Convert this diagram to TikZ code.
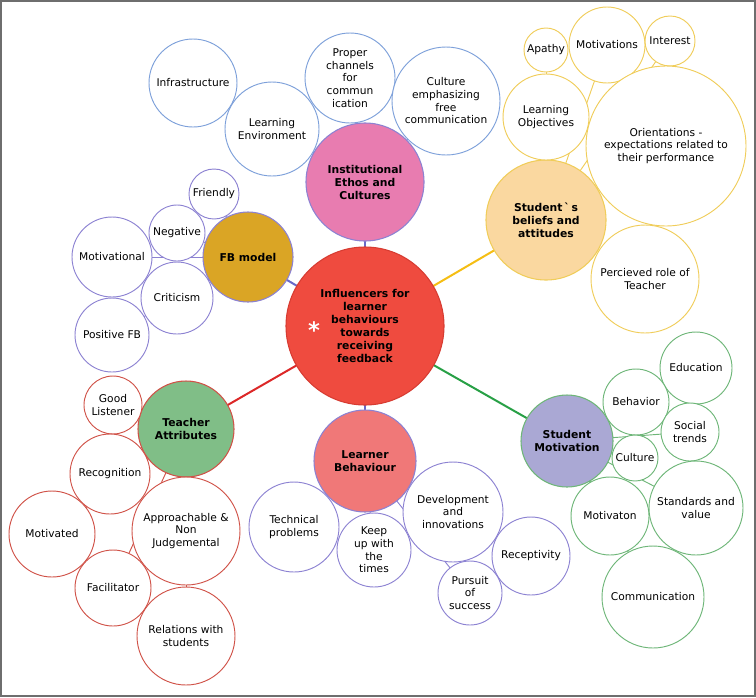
\documentclass[tikz,border=0pt]{standalone}
\usepackage{fontspec}
\setmainfont{DejaVu Sans}
\newfontfamily\rawfont{DejaVu Sans}
\usetikzlibrary{backgrounds}
\definecolor{rootred}{RGB}{239,75,63}
\definecolor{rootline}{RGB}{215,60,50}
\definecolor{instpink}{RGB}{232,124,176}
\definecolor{fbgold}{RGB}{218,165,37}
\definecolor{beliefpeach}{RGB}{250,216,160}
\definecolor{teachgreen}{RGB}{128,190,135}
\definecolor{learnrose}{RGB}{240,120,120}
\definecolor{motivlilac}{RGB}{170,168,212}
\definecolor{edgeblue}{RGB}{125,160,218}
\definecolor{edgeyellow}{RGB}{240,205,90}
\definecolor{edgepurple}{RGB}{140,130,210}
\definecolor{edgered}{RGB}{208,82,72}
\definecolor{edgegreen}{RGB}{110,182,120}
\definecolor{trunkblue}{RGB}{105,105,200}
\definecolor{trunkgold}{RGB}{245,190,20}
\definecolor{trunkred}{RGB}{220,40,40}
\definecolor{trunkgreen}{RGB}{40,160,70}
\definecolor{framegray}{RGB}{110,110,110}

\begin{document}
\begin{tikzpicture}[x=0.75pt, y=-0.75pt,
    rad/.style={minimum size=#1*1.5pt},
    leaf/.style={circle, draw=#1, fill=white, line width=0.7pt, inner sep=0pt, align=center, font=\fontsize{8}{9.5}\selectfont},
    topic/.style={circle, draw=#1, line width=0.8pt, inner sep=0pt, align=center, font=\fontsize{8.1}{9.75}\selectfont\bfseries},
    spoke/.style={line width=0.7pt, draw=#1},
    trunk/.style={line width=1.5pt, draw=#1}
]
    \useasboundingbox (0,0) rectangle (756,697);
    \draw[framegray, line width=1.5pt] (1,1) rectangle (755,696);

    % centre
    \node[topic=rootline, fill=rootred, rad=79] (root) at (365,326)
      {Influencers for\\learner\\behaviours\\towards\\receiving\\feedback};
    \node[text=white, font=\bfseries\fontsize{17}{17}\selectfont] (star) at (314,330) {*};

    % main topics
    \node[topic=edgepurple, fill=instpink, rad=59] (inst) at (365,182) {Institutional\\Ethos and\\Cultures};
    \node[topic=edgepurple, fill=fbgold, rad=45] (fb) at (248,257) {FB model};
    \node[topic=edgeyellow, fill=beliefpeach, rad=60] (belief) at (546,220) {Student{\rawfont\,`\,}s\\beliefs and\\attitudes};
    \node[topic=edgered, fill=teachgreen, rad=48] (teach) at (186,429) {Teacher\\Attributes};
    \node[topic=edgepurple, fill=learnrose, rad=51] (learn) at (365,461) {Learner\\Behaviour};
    \node[topic=edgegreen, fill=motivlilac, rad=46] (motiv) at (567,441) {Student\\Motivation};

    % institutional ethos
    \node[leaf=edgeblue, rad=44] (infra) at (193,83) {Infrastructure};
    \node[leaf=edgeblue, rad=47] (envir) at (272,129) {Learning\\Environment};
    \node[leaf=edgeblue, rad=45] (chan) at (350,78) {Proper\\channels\\for\\commun\\ication};
    \node[leaf=edgeblue, rad=54] (freecom) at (446,101) {Culture\\emphasizing\\free\\communication};

    % beliefs and attitudes
    \node[leaf=edgeyellow, rad=22] (apathy) at (546,50) {Apathy};
    \node[leaf=edgeyellow, rad=38] (motivs) at (607,45) {Motivations};
    \node[leaf=edgeyellow, rad=25] (interest) at (670,41) {Interest};
    \node[leaf=edgeyellow, rad=43] (objective) at (546,117) {Learning\\Objectives};
    \node[leaf=edgeyellow, rad=80] (orient) at (666,146) {Orientations -\\expectations related to\\their performance};
    \node[leaf=edgeyellow, rad=54] (role) at (645,279) {Percieved role of\\Teacher};

    % FB model
    \node[leaf=edgepurple, rad=25] (friendly) at (214,194) {Friendly};
    \node[leaf=edgepurple, rad=28] (negative) at (177,233) {Negative};
    \node[leaf=edgepurple, rad=40] (motivational) at (112,257) {Motivational};
    \node[leaf=edgepurple, rad=36] (criticism) at (177,298) {Criticism};
    \node[leaf=edgepurple, rad=37] (positive) at (112,335) {Positive FB};

    % teacher attributes
    \node[leaf=edgered, rad=29] (listener) at (113,405) {Good\\Listener};
    \node[leaf=edgered, rad=40] (recog) at (110,474) {Recognition};
    \node[leaf=edgered, rad=43] (motivated) at (52,534) {Motivated};
    \node[leaf=edgered, rad=54] (approach) at (186,531) {Approachable \&\\Non\\Judgemental};
    \node[leaf=edgered, rad=38] (facil) at (113,588) {Facilitator};
    \node[leaf=edgered, rad=49] (relation) at (186,636) {Relations with\\students};

    % learner behaviour
    \node[leaf=edgepurple, rad=45] (technical) at (294,527) {Technical\\problems};
    \node[leaf=edgepurple, rad=37] (keepup) at (374,550) {Keep\\up with\\the\\times};
    \node[leaf=edgepurple, rad=50] (develop) at (453,512) {Development\\and\\innovations};
    \node[leaf=edgepurple, rad=39] (recept) at (531,556) {Receptivity};
    \node[leaf=edgepurple, rad=32] (pursuit) at (470,593) {Pursuit\\of\\success};

    % student motivation
    \node[leaf=edgegreen, rad=36] (educ) at (696,368) {Education};
    \node[leaf=edgegreen, rad=33] (behav) at (636,402) {Behavior};
    \node[leaf=edgegreen, rad=29] (social) at (690,432) {Social\\trends};
    \node[leaf=edgegreen, rad=23] (cult) at (635,458) {Culture};
    \node[leaf=edgegreen, rad=39] (motivaton) at (610,516) {Motivaton};
    \node[leaf=edgegreen, rad=47] (standard) at (696,508) {Standards and\\value};
    \node[leaf=edgegreen, rad=51] (commun) at (653,597) {Communication};

    % spokes behind the bubbles
    \begin{scope}[on background layer]
      \draw[trunk=trunkblue] (root.center) -- (inst.center);
      \draw[trunk=trunkblue] (root.center) -- (fb.center);
      \draw[trunk=trunkgold] (root.center) -- (belief.center);
      \draw[trunk=trunkred] (root.center) -- (teach.center);
      \draw[trunk=trunkblue] (root.center) -- (learn.center);
      \draw[trunk=trunkgreen] (root.center) -- (motiv.center);
      \foreach \k in {infra, envir, chan, freecom}
        \draw[spoke=edgeblue] (inst.center) -- (\k.center);
      \foreach \k in {apathy, motivs, interest, objective, orient, role}
        \draw[spoke=edgeyellow] (belief.center) -- (\k.center);
      \foreach \k in {friendly, negative, motivational, criticism, positive}
        \draw[spoke=edgepurple] (fb.center) -- (\k.center);
      \foreach \k in {listener, recog, motivated, approach, facil, relation}
        \draw[spoke=edgered] (teach.center) -- (\k.center);
      \foreach \k in {technical, keepup, develop, recept, pursuit}
        \draw[spoke=edgepurple] (learn.center) -- (\k.center);
      \foreach \k in {educ, behav, social, cult, motivaton, standard, commun}
        \draw[spoke=edgegreen] (motiv.center) -- (\k.center);
    \end{scope}
\end{tikzpicture}
\end{document}
